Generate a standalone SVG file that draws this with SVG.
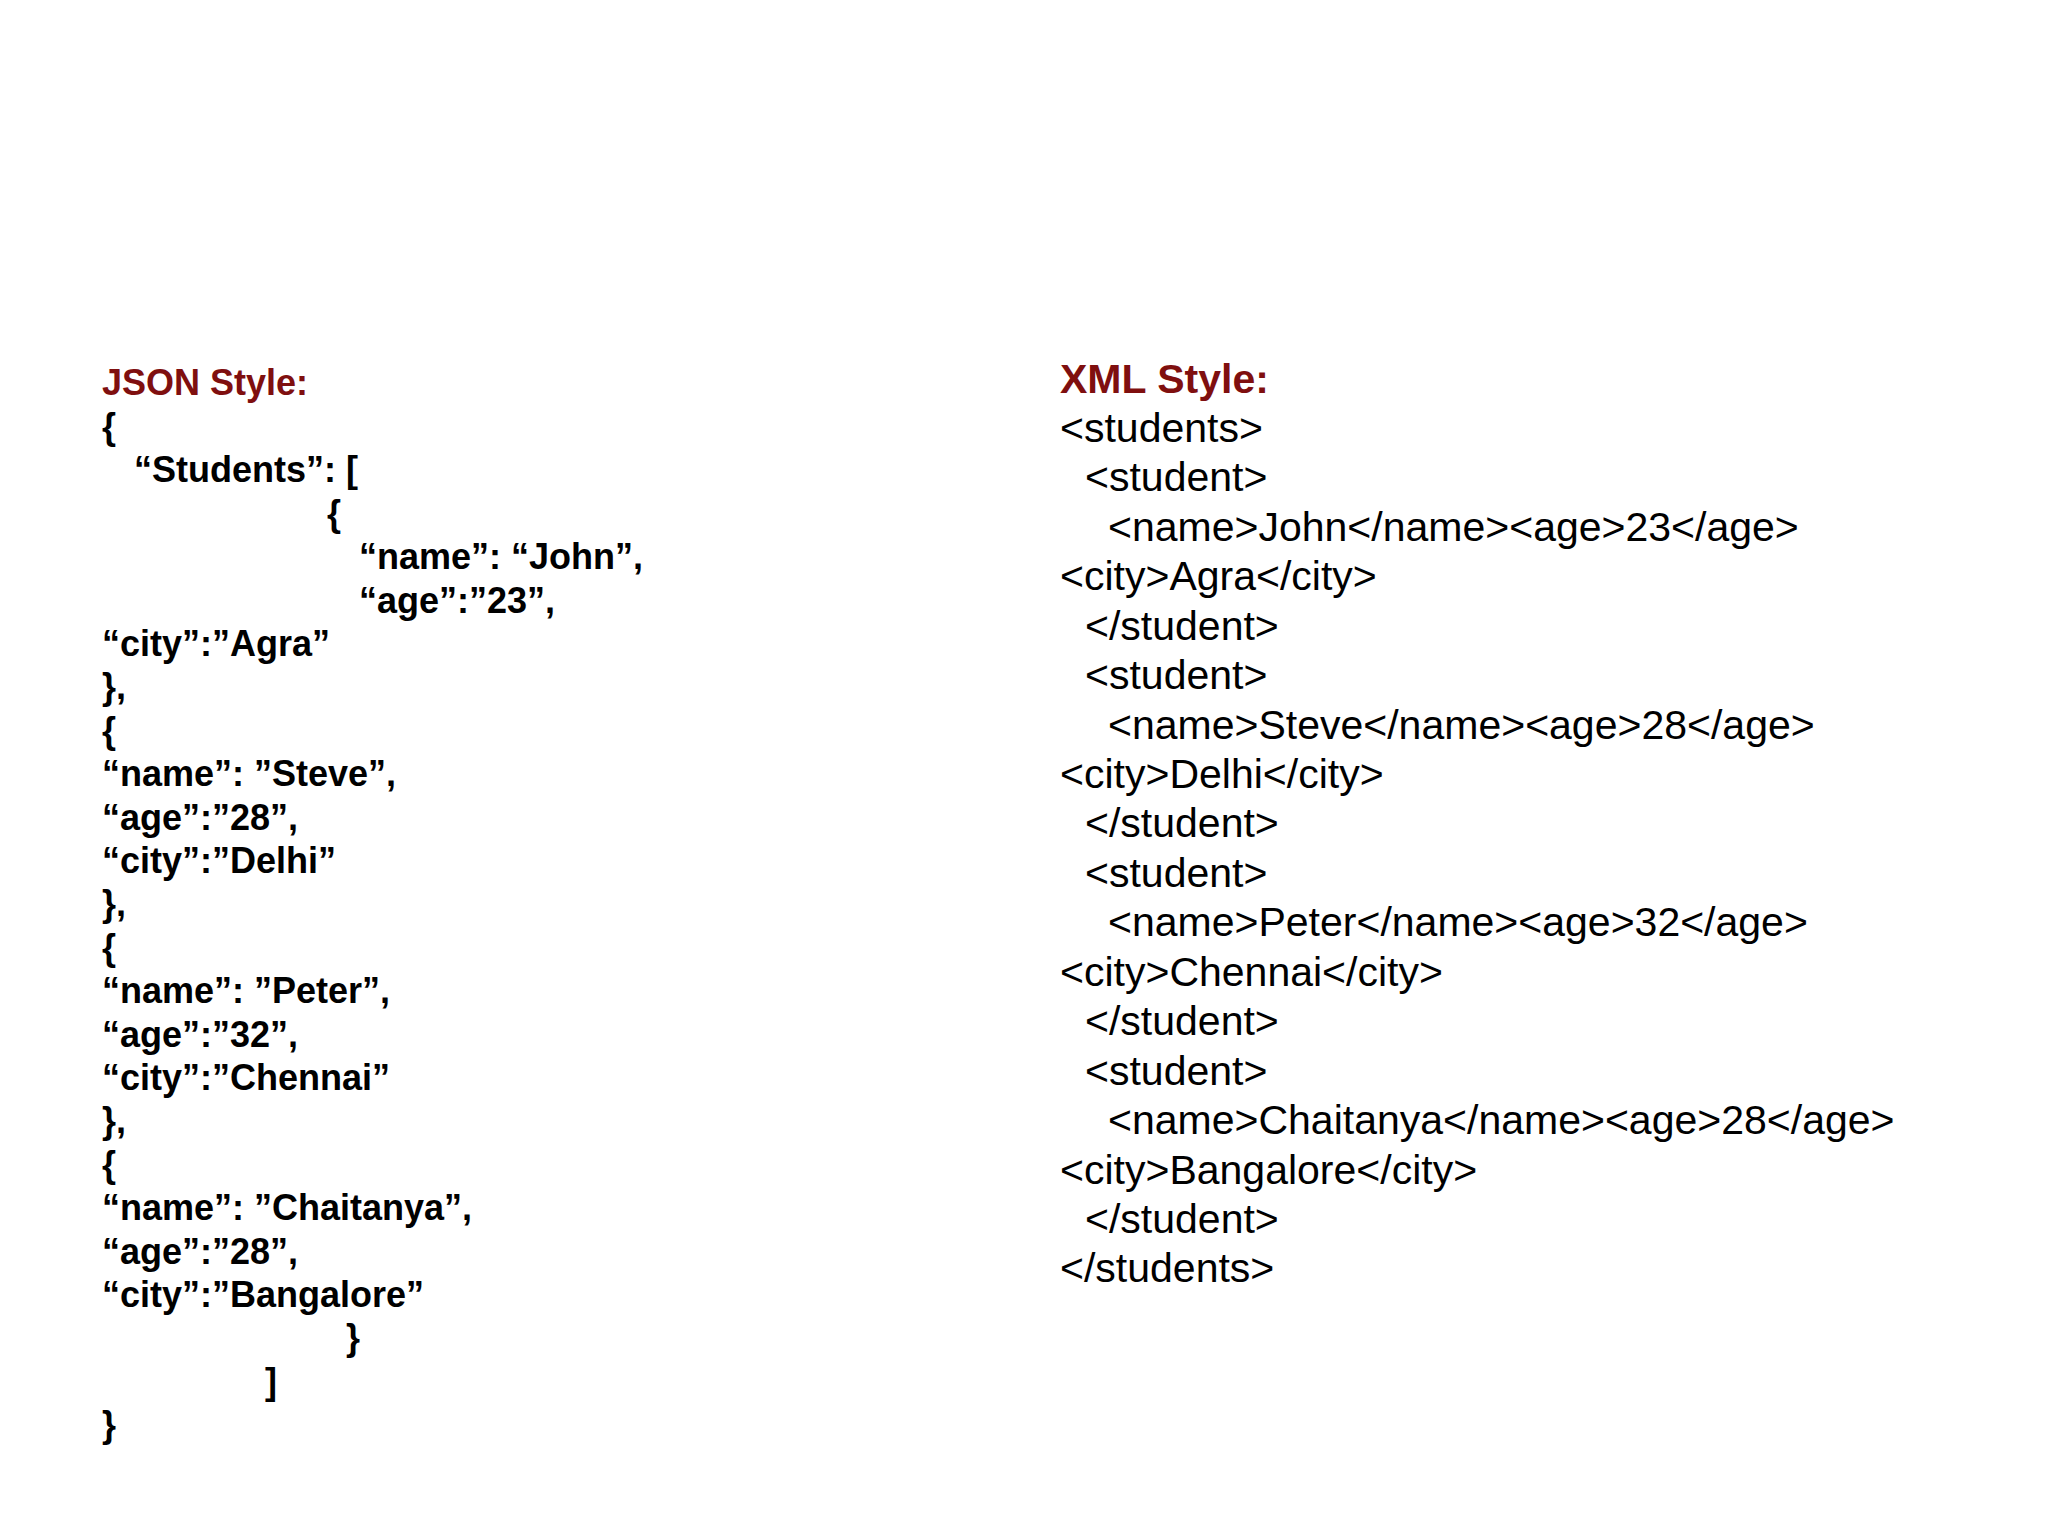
<svg xmlns="http://www.w3.org/2000/svg" width="2048" height="1535" viewBox="0 0 2048 1535">
<style>
.t{font-family:"Liberation Sans",Arial,sans-serif;font-weight:bold;fill:#7f0f0f}
.j{font-family:"Liberation Sans",Arial,sans-serif;font-weight:bold;font-size:36px;fill:#000}
.x{font-family:"Liberation Sans",Arial,sans-serif;font-size:41px;fill:#000}
</style>
<rect width="2048" height="1535" fill="#fff"/>
<g id="json">
<text class="t" x="102" y="395" font-size="36">JSON Style:</text>
<text class="j" x="102" y="439">{</text>
<text class="j" x="134" y="482">“Students”: [</text>
<text class="j" x="327" y="526">{</text>
<text class="j" x="359" y="569">“name”: “John”,</text>
<text class="j" x="359" y="613">“age”:”23”,</text>
<text class="j" x="102" y="656">“city”:”Agra”</text>
<text class="j" x="102" y="699">},</text>
<text class="j" x="102" y="743">{</text>
<text class="j" x="102" y="786">“name”: ”Steve”,</text>
<text class="j" x="102" y="830">“age”:”28”,</text>
<text class="j" x="102" y="873">“city”:”Delhi”</text>
<text class="j" x="102" y="916">},</text>
<text class="j" x="102" y="960">{</text>
<text class="j" x="102" y="1003">“name”: ”Peter”,</text>
<text class="j" x="102" y="1047">“age”:”32”,</text>
<text class="j" x="102" y="1090">“city”:”Chennai”</text>
<text class="j" x="102" y="1133">},</text>
<text class="j" x="102" y="1177">{</text>
<text class="j" x="102" y="1220">“name”: ”Chaitanya”,</text>
<text class="j" x="102" y="1264">“age”:”28”,</text>
<text class="j" x="102" y="1307">“city”:”Bangalore”</text>
<text class="j" x="346" y="1350">}</text>
<text class="j" x="265" y="1394">]</text>
<text class="j" x="102" y="1437">}</text>
</g>
<g id="xml">
<text class="t" x="1060" y="393" font-size="41">XML Style:</text>
<text class="x" x="1060" y="442">&lt;students&gt;</text>
<text class="x" x="1085" y="491">&lt;student&gt;</text>
<text class="x" x="1108" y="541">&lt;name&gt;John&lt;/name&gt;&lt;age&gt;23&lt;/age&gt;</text>
<text class="x" x="1060" y="590">&lt;city&gt;Agra&lt;/city&gt;</text>
<text class="x" x="1085" y="640">&lt;/student&gt;</text>
<text class="x" x="1085" y="689">&lt;student&gt;</text>
<text class="x" x="1108" y="739">&lt;name&gt;Steve&lt;/name&gt;&lt;age&gt;28&lt;/age&gt;</text>
<text class="x" x="1060" y="788">&lt;city&gt;Delhi&lt;/city&gt;</text>
<text class="x" x="1085" y="837">&lt;/student&gt;</text>
<text class="x" x="1085" y="887">&lt;student&gt;</text>
<text class="x" x="1108" y="936">&lt;name&gt;Peter&lt;/name&gt;&lt;age&gt;32&lt;/age&gt;</text>
<text class="x" x="1060" y="986">&lt;city&gt;Chennai&lt;/city&gt;</text>
<text class="x" x="1085" y="1035">&lt;/student&gt;</text>
<text class="x" x="1085" y="1085">&lt;student&gt;</text>
<text class="x" x="1108" y="1134">&lt;name&gt;Chaitanya&lt;/name&gt;&lt;age&gt;28&lt;/age&gt;</text>
<text class="x" x="1060" y="1184">&lt;city&gt;Bangalore&lt;/city&gt;</text>
<text class="x" x="1085" y="1233">&lt;/student&gt;</text>
<text class="x" x="1060" y="1282">&lt;/students&gt;</text>
</g>
</svg>
